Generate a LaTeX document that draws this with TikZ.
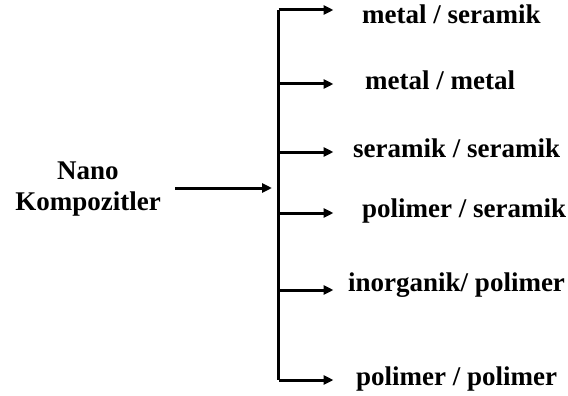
\documentclass[tikz,border=0pt]{standalone}
\usepackage{fontspec}
\setmainfont{Liberation Serif}
\usetikzlibrary{arrows.meta}
\begin{document}
\begin{tikzpicture}[x=1pt,y=-1pt,
  lbl/.style={font=\fontsize{27}{31}\selectfont\bfseries, anchor=west, inner sep=0pt},
  conn/.style={line width=3pt, -{Triangle[length=10pt,width=9pt]}},
  spine/.style={line width=3pt}]
\useasboundingbox (0,0) rectangle (568,396);
% source label
\node[font=\fontsize{27}{31}\selectfont\bfseries, align=center, inner sep=0pt] (src) at (88,189) {Nano\\Kompozitler};
% branch points on the spine
\coordinate (b1) at (278.5,10);
\coordinate (b2) at (278.5,84);
\coordinate (b3) at (278.5,152);
\coordinate (b4) at (278.5,213);
\coordinate (b5) at (278.5,290);
\coordinate (b6) at (278.5,380);
\coordinate (s0) at (175,188);
\coordinate (s1) at (272,188);
% targets
\node[lbl] (t1) at (362,14) {metal / seramik};
\node[lbl] (t2) at (365,80) {metal / metal};
\node[lbl] (t3) at (353,148) {seramik / seramik};
\node[lbl] (t4) at (362,211) {polimer / seramik};
\node[lbl] (t5) at (348,285) {inorganik/ polimer};
\node[lbl] (t6) at (356,379) {polimer / polimer};
% spine
\draw[spine] (b1) -- (b6);
\draw[conn] (s0) -- (s1);
\foreach \i in {1,...,6} {
  \draw[conn] (b\i) -- ++(55,0);
}
\end{tikzpicture}
\end{document}
